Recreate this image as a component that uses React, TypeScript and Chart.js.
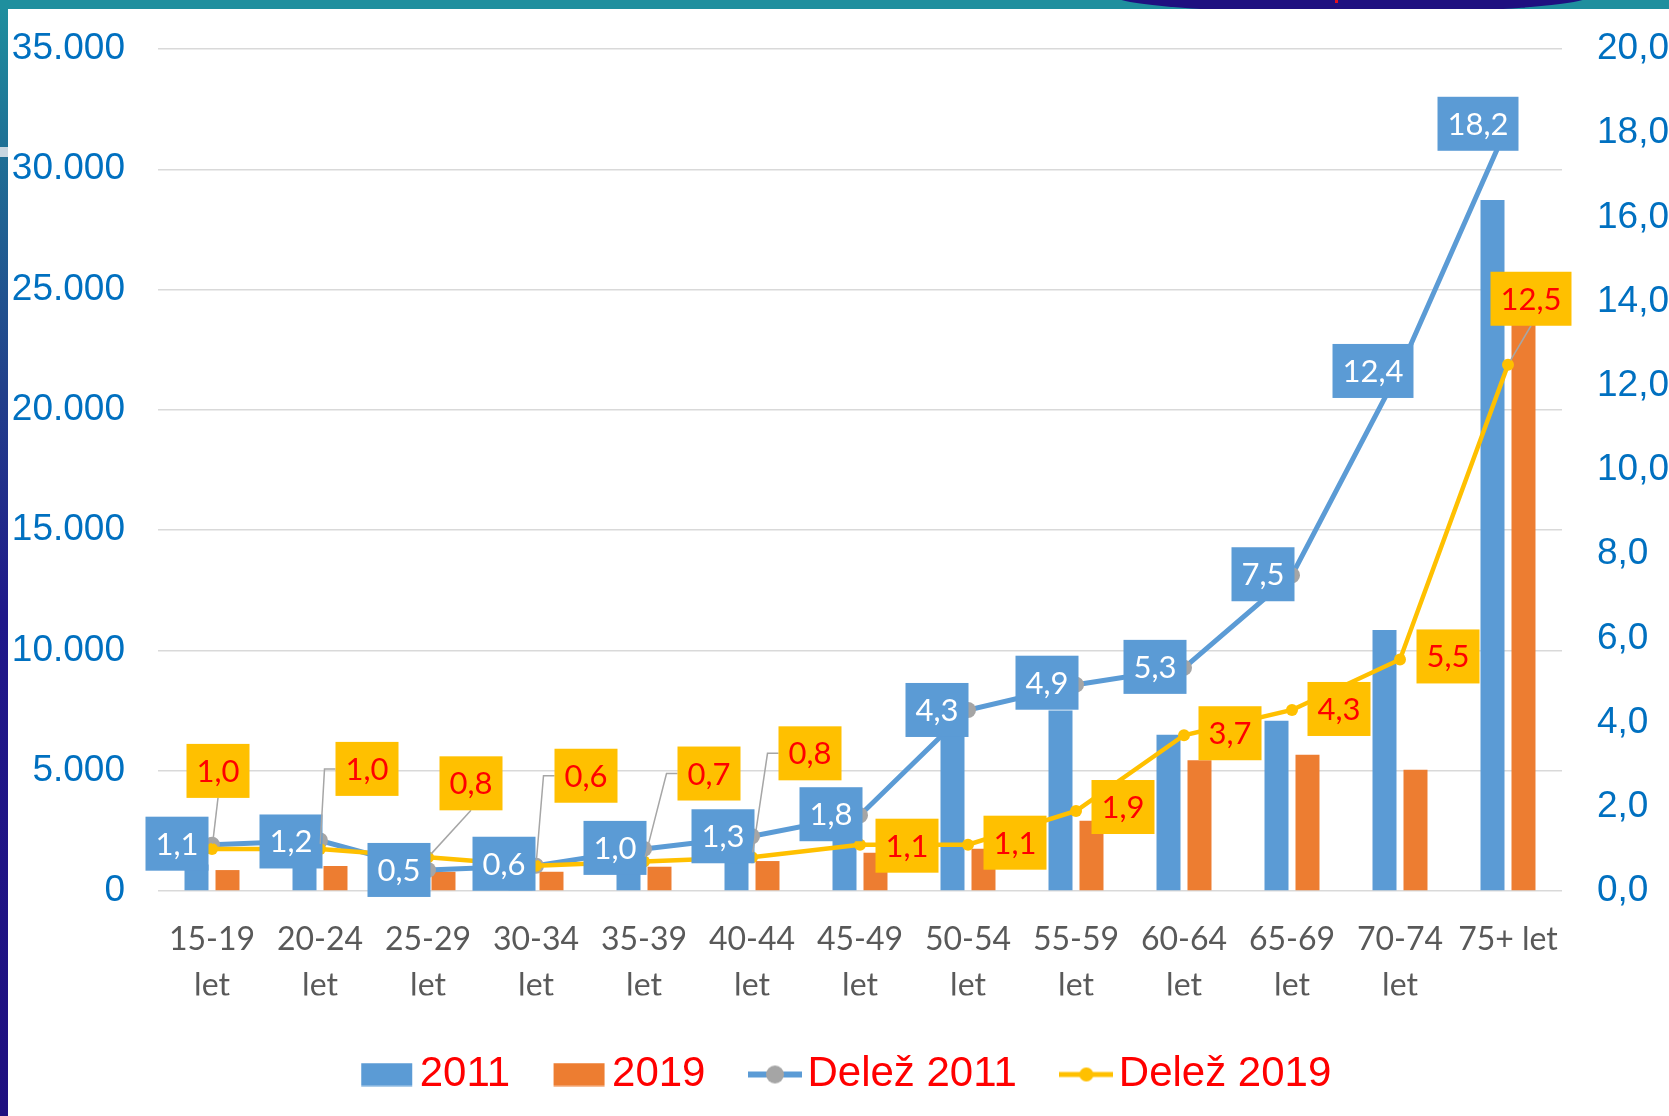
import React, { useEffect, useRef } from 'react';
import { Chart, registerables } from 'chart.js';

Chart.register(...registerables);

// ---------- DATA ----------
const categories = ['15-19 let', '20-24 let', '25-29 let', '30-34 let', '35-39 let', '40-44 let', '45-49 let', '50-54 let', '55-59 let', '60-64 let', '65-69 let', '70-74 let', '75+ let'];
const tickLines = [['15-19', 'let'], ['20-24', 'let'], ['25-29', 'let'], ['30-34', 'let'], ['35-39', 'let'], ['40-44', 'let'], ['45-49', 'let'], ['50-54', 'let'], ['55-59', 'let'], ['60-64', 'let'], ['65-69', 'let'], ['70-74', 'let'], ['75+ let']];
const count2011 = [1100, 1500, 700, 900, 1500, 1900, 2800, 6900, 7500, 6500, 7080, 10850, 28720];
const count2019 = [870, 1040, 800, 800, 1010, 1245, 1590, 1760, 2920, 5440, 5665, 5045, 23700];
const share2011 = [1.1, 1.2, 0.5, 0.6, 1.0, 1.3, 1.8, 4.3, 4.9, 5.3, 7.5, 12.4, 18.2];
const share2019 = [1.0, 1.0, 0.8, 0.6, 0.7, 0.8, 1.1, 1.1, 1.9, 3.7, 4.3, 5.5, 12.5];
const seriesNames = ['2011', '2019', 'Delež 2011', 'Delež 2019'];

// label placement (pixel offsets of the label box centre from its point; leader kind)
const share2011Offsets: [number, number, string][] = [
  [-35, -1, ''], [-29, 1, ''], [-29, 0, ''], [-32, -2, ''], [-29, -1, ''], [-29, 0, ''], [-29, -1, ''],
  [-31, 0, ''], [-29, -2, ''], [-29, -1, ''], [-29, -1, ''], [-27, 2, ''], [-30, -1, ''],
];
const share2019Offsets: [number, number, string][] = [
  [6, -78, 'b'], [47, -80, 'l'], [43, -74, 'b'], [50, -90, 'l'], [65, -88, 'l'], [58, -104, 'l'], [47, 1, ''],
  [47, -2, ''], [47, -4, ''], [46, -2, ''], [47, -1, ''], [48, -3, ''], [23, -66, 'b'],
];

// ---------- STYLE ----------
const BLUE = '#5b9bd5';
const ORANGE = '#ed7d31';
const GRAY = '#a5a5a5';
const YELLOW = '#ffc000';
const AXIS_BLUE = '#0070c0';

const fmt1 = (v: number) => v.toFixed(1).replace('.', ',');
const fmtThousands = (v: number) => {
  const s = Math.round(v).toString();
  return s.replace(/\B(?=(\d{3})+(?!\d))/g, '.');
};

function makeIcon(kind: 'rect' | 'line', color: string, marker?: string, r?: number, lw?: number) {
  const c = document.createElement('canvas');
  c.width = 54;
  c.height = 24;
  const g = c.getContext('2d')!;
  if (kind === 'rect') {
    g.fillStyle = color;
    g.fillRect(1, 0.5, 51, 23);
  } else {
    g.strokeStyle = color;
    g.lineWidth = lw || 5;
    g.beginPath();
    g.moveTo(0, 12);
    g.lineTo(54, 12);
    g.stroke();
    g.fillStyle = marker || color;
    g.beginPath();
    g.arc(27, 12, r || 7, 0, Math.PI * 2);
    g.fill();
  }
  return c;
}

const boxLabelPlugin = {
  id: 'boxLabels',
  afterDatasetsDraw(chart: any) {
    const ctx = chart.ctx as CanvasRenderingContext2D;
    ctx.save();
    ctx.font = '31px Lato, "Noto Sans", sans-serif';
    ctx.textAlign = 'center';
    ctx.textBaseline = 'middle';
    const specs = [
      { ds: 2, fill: BLUE, color: '#ffffff', offsets: share2011Offsets },
      { ds: 3, fill: YELLOW, color: '#ff0000', offsets: share2019Offsets },
    ];
    for (const s of specs) {
      const meta = chart.getDatasetMeta(s.ds);
      const values = chart.data.datasets[s.ds].data as number[];
      meta.data.forEach((pt: any, i: number) => {
        const label = fmt1(values[i]);
        const [dx, dy, leader] = s.offsets[i];
        const cx = pt.x + dx;
        const cy = pt.y + dy;
        const w = ctx.measureText(label).width + 20;
        const h = 54;
        const left = cx - w / 2;
        const top = cy - h / 2;
        if (leader) {
          ctx.strokeStyle = '#a6a6a6';
          ctx.lineWidth = 1.5;
          ctx.beginPath();
          let sx: number, sy: number;
          if (leader === 'b') {
            sx = cx;
            sy = top + h;
            ctx.moveTo(sx, sy);
          } else {
            ctx.moveTo(left, cy);
            sx = left - 11;
            sy = cy;
            ctx.lineTo(sx, sy);
          }
          const ddx = pt.x - sx;
          const ddy = pt.y - sy;
          const d = Math.hypot(ddx, ddy) || 1;
          const r = 5;
          ctx.lineTo(pt.x - (ddx / d) * r, pt.y - (ddy / d) * r);
          ctx.stroke();
        }
        ctx.fillStyle = s.fill;
        ctx.fillRect(left, top, w, h);
        ctx.fillStyle = s.color;
        ctx.fillText(label, cx, cy + 1);
      });
    }
    ctx.restore();
  },
};

// nudges the legend row to the right, as in the original
const legendShiftPlugin = {
  id: 'legendShift',
  afterLayout(chart: any) {
    const lg = chart.legend;
    if (lg) {
      lg.left += 15;
      lg.right += 15;
    }
  },
};

const noEdgePadding = (scale: any) => {
  scale.paddingTop = 20;
  scale.paddingBottom = 20;
};

export default function App() {
  const canvasRef = useRef<HTMLCanvasElement | null>(null);

  useEffect(() => {
    document.body.style.margin = '0';
    document.body.style.background = '#ffffff';
    let chart: Chart | null = null;
    let cancelled = false;

    const build = () => {
      if (cancelled || !canvasRef.current) return;
      const icons = [
        makeIcon('rect', BLUE),
        makeIcon('rect', ORANGE),
        makeIcon('line', BLUE, GRAY, 9, 6),
        makeIcon('line', YELLOW, YELLOW, 7, 5),
      ];
      chart = new Chart(canvasRef.current, {
        type: 'bar',
        data: {
          labels: categories,
          datasets: [
            {
              type: 'bar',
              label: seriesNames[0],
              data: count2011,
              backgroundColor: BLUE,
              yAxisID: 'y',
              categoryPercentage: 0.574,
              barPercentage: 0.774,
              order: 2,
            },
            {
              type: 'bar',
              label: seriesNames[1],
              data: count2019,
              backgroundColor: ORANGE,
              yAxisID: 'y',
              categoryPercentage: 0.574,
              barPercentage: 0.774,
              order: 3,
            },
            {
              type: 'line',
              label: seriesNames[2],
              data: share2011,
              borderColor: BLUE,
              backgroundColor: GRAY,
              borderWidth: 5,
              pointRadius: 8,
              pointBackgroundColor: GRAY,
              pointBorderWidth: 0,
              pointBorderColor: GRAY,
              tension: 0,
              fill: false,
              yAxisID: 'y1',
              order: 1,
            },
            {
              type: 'line',
              label: seriesNames[3],
              data: share2019,
              borderColor: YELLOW,
              backgroundColor: YELLOW,
              borderWidth: 4.5,
              pointRadius: 6,
              pointBackgroundColor: YELLOW,
              pointBorderWidth: 0,
              pointBorderColor: YELLOW,
              tension: 0,
              fill: false,
              yAxisID: 'y1',
              order: 0,
            },
          ] as any,
        },
        options: {
          animation: false,
          responsive: false,
          devicePixelRatio: 1,
          events: [],
          layout: { padding: { top: 40, bottom: 10.5, left: 0, right: 0 } },
          plugins: {
            tooltip: { enabled: false },
            legend: {
              display: true,
              position: 'bottom',
              labels: {
                usePointStyle: true,
                pointStyleWidth: 23,
                padding: 58,
                color: '#ff0000',
                font: { family: '"Liberation Sans", Arial, sans-serif', size: 42 },
                generateLabels: (ch: any) =>
                  ch.data.datasets.map((ds: any, i: number) => ({
                    text: ds.label,
                    pointStyle: icons[i],
                    fillStyle: 'rgba(0,0,0,0)',
                    strokeStyle: 'rgba(0,0,0,0)',
                    lineWidth: 0,
                    hidden: false,
                    datasetIndex: i,
                    fontColor: '#ff0000',
                  })),
              },
            },
          },
          scales: {
            x: {
              type: 'category',
              grid: { display: false, drawTicks: false },
              border: { display: false },
              ticks: {
                autoSkip: false,
                maxRotation: 0,
                minRotation: 0,
                padding: 26,
                color: '#595959',
                font: { family: 'Lato, "Noto Sans", sans-serif', size: 32, lineHeight: 1.4375 },
                callback: (_v: any, i: number) => tickLines[i],
              },
              afterFit: (scale: any) => {
                scale.height = 104.5;
                scale.paddingLeft = 0;
                scale.paddingRight = 0;
              },
            },
            y: {
              type: 'linear',
              position: 'left',
              min: 0,
              max: 35000,
              grid: { color: '#d9d9d9', lineWidth: 1.5, drawTicks: false },
              border: { display: false },
              ticks: {
                stepSize: 5000,
                padding: 33,
                color: AXIS_BLUE,
                font: { family: '"Liberation Sans", Arial, sans-serif', size: 37 },
                callback: (v: any) => fmtThousands(Number(v)),
              },
              afterFit: (scale: any) => {
                scale.width = 150;
                noEdgePadding(scale);
              },
            },
            y1: {
              type: 'linear',
              position: 'right',
              min: 0,
              max: 20,
              grid: { display: false, drawTicks: false },
              border: { display: false },
              ticks: {
                stepSize: 2,
                padding: 35,
                color: AXIS_BLUE,
                font: { family: '"Liberation Sans", Arial, sans-serif', size: 37 },
                callback: (v: any) => fmt1(Number(v)),
              },
              afterFit: (scale: any) => {
                scale.width = 107;
                noEdgePadding(scale);
              },
            },
          },
        } as any,
        plugins: [boxLabelPlugin, legendShiftPlugin],
      });
    };

    const fontsReady = (document as any).fonts
      ? Promise.all([
          (document as any).fonts.load('31px Lato'),
          (document as any).fonts.load('37px "Liberation Sans"'),
        ]).catch(() => null)
      : Promise.resolve(null);
    fontsReady.then(build);

    return () => {
      cancelled = true;
      if (chart) chart.destroy();
    };
  }, []);

  return (
    <div style={{ position: 'relative', width: 1669, height: 1116, background: '#ffffff', overflow: 'hidden' }}>
      {/* top band */}
      <div style={{ position: 'absolute', left: 0, top: 0, width: 1669, height: 9, background: '#1f8f9e', overflow: 'hidden' }}>
        <div
          style={{
            position: 'absolute',
            left: 1352 - 240,
            top: -5 - 18,
            width: 480,
            height: 36,
            borderRadius: '50%',
            background: '#1f1080',
          }}
        />
        <div style={{ position: 'absolute', left: 1335, top: 0, width: 3, height: 3, background: '#e01020' }} />
      </div>
      {/* left band */}
      <div
        style={{
          position: 'absolute',
          left: 0,
          top: 9,
          width: 8,
          height: 1107,
          background: 'linear-gradient(to bottom, #1f8e9e 0%, #1f6f95 13%, #22418b 34%, #20188a 55%, #1f1080 100%)',
        }}
      />
      <div style={{ position: 'absolute', left: 0, top: 147, width: 8, height: 10, background: '#c8d6e0' }} />
      <canvas
        ref={canvasRef}
        width={1661}
        height={1107}
        style={{ position: 'absolute', left: 8, top: 9, width: 1661, height: 1107 }}
      />
    </div>
  );
}
